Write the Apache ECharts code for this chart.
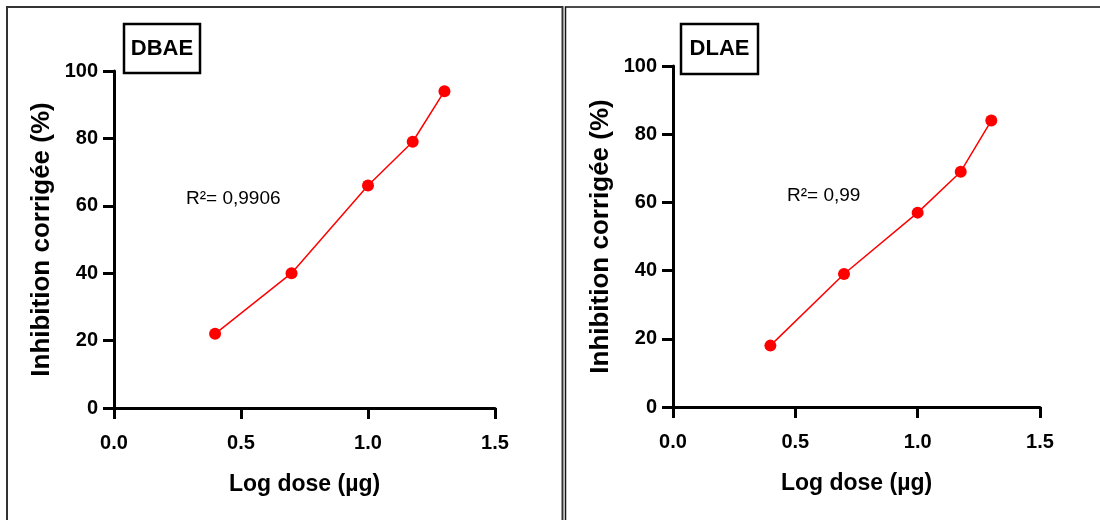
<!DOCTYPE html>
<html>
<head>
<meta charset="utf-8">
<script src="https://cdn.jsdelivr.net/npm/echarts@6/dist/echarts.min.js"></script>
<style>
html,body{margin:0;padding:0;background:#fff;}
#c{width:1100px;height:520px;}
</style>
</head>
<body>
<div id="c"></div>
<script>
const logDose = [0.398, 0.699, 1.0, 1.176, 1.301];
const dbaeValues = [22, 40, 66, 79, 94];
const dlaeValues = [18, 39, 57, 69, 84];
const panelLabels = ['DBAE', 'DLAE'];
const r2Labels = ['R²= 0,9906', 'R²= 0,99'];
const xTitle = 'Log dose (µg)';
const yTitle = 'Inhibition corrigée (%)';

const FONT = "'Liberation Sans', Arial, sans-serif";
const chart = echarts.init(document.getElementById('c'), null, {renderer: 'canvas'});

function xAxisCfg(gi) {
  return {
    type: 'value', gridIndex: gi, min: 0, max: 1.5, interval: 0.5,
    name: xTitle, nameLocation: 'middle', nameGap: 65,
    nameTextStyle: {fontFamily: FONT, fontWeight: 'bold', fontSize: 23, color: '#000'},
    axisLine: {show: true, onZero: false, lineStyle: {color: '#000', width: 3}},
    axisTick: {show: true, inside: false, length: 11, lineStyle: {color: '#000', width: 3}},
    axisLabel: {margin: 25, fontFamily: FONT, fontWeight: 'bold', fontSize: 20, color: '#000',
      formatter: v => v.toFixed(1)},
    splitLine: {show: false}
  };
}
function yAxisCfg(gi) {
  return {
    type: 'value', gridIndex: gi, min: 0, max: 100, interval: 20,
    name: yTitle, nameLocation: 'middle', nameGap: 59, nameRotate: 90,
    nameTextStyle: {fontFamily: FONT, fontWeight: 'bold', fontSize: 26, color: '#000'},
    axisLine: {show: true, onZero: false, lineStyle: {color: '#000', width: 3}},
    axisTick: {show: true, inside: false, length: 11, lineStyle: {color: '#000', width: 3}},
    axisLabel: {margin: 16, fontFamily: FONT, fontWeight: 'bold', fontSize: 20, color: '#000'},
    splitLine: {show: false}
  };
}
function seriesCfg(gi, data) {
  return {
    type: 'line', xAxisIndex: gi, yAxisIndex: gi,
    data: logDose.map((x, i) => [x, data[i]]),
    symbol: 'circle', symbolSize: 12,
    lineStyle: {color: '#ff0000', width: 1.5},
    itemStyle: {color: '#ff0000'},
    silent: true, animation: false
  };
}

const option = {
  animation: false,
  grid: [
    {left: 114, top: 71, width: 381, height: 337},
    {left: 673, top: 66, width: 367, height: 341}
  ],
  xAxis: [xAxisCfg(0), xAxisCfg(1)],
  yAxis: [yAxisCfg(0), yAxisCfg(1)],
  series: [seriesCfg(0, dbaeValues), seriesCfg(1, dlaeValues)],
  graphic: [
    {type: 'rect', shape: {x: 7, y: 7, width: 555.5, height: 530}, style: {fill: null, stroke: '#333', lineWidth: 2}},
    {type: 'rect', shape: {x: 565.5, y: 7, width: 560, height: 530}, style: {fill: null, stroke: '#111', lineWidth: 1.5}},
    {type: 'rect', shape: {x: 124, y: 24, width: 76, height: 49}, style: {fill: '#fff', stroke: '#000', lineWidth: 2.5}},
    {type: 'rect', shape: {x: 681, y: 24, width: 77, height: 50}, style: {fill: '#fff', stroke: '#000', lineWidth: 2.5}},
    {type: 'text', x: 162, y: 49, style: {text: panelLabels[0], fontFamily: FONT, fontWeight: 'bold', fontSize: 22, fill: '#000', textAlign: 'center', textVerticalAlign: 'middle'}},
    {type: 'text', x: 719.5, y: 49, style: {text: panelLabels[1], fontFamily: FONT, fontWeight: 'bold', fontSize: 22, fill: '#000', textAlign: 'center', textVerticalAlign: 'middle'}},
    {type: 'text', x: 186, y: 199, style: {text: r2Labels[0], fontFamily: FONT, fontSize: 19, fill: '#000', textAlign: 'left', textVerticalAlign: 'middle'}},
    {type: 'text', x: 787, y: 196, style: {text: r2Labels[1], fontFamily: FONT, fontSize: 19, fill: '#000', textAlign: 'left', textVerticalAlign: 'middle'}}
  ]
};
chart.setOption(option);
</script>
</body>
</html>
